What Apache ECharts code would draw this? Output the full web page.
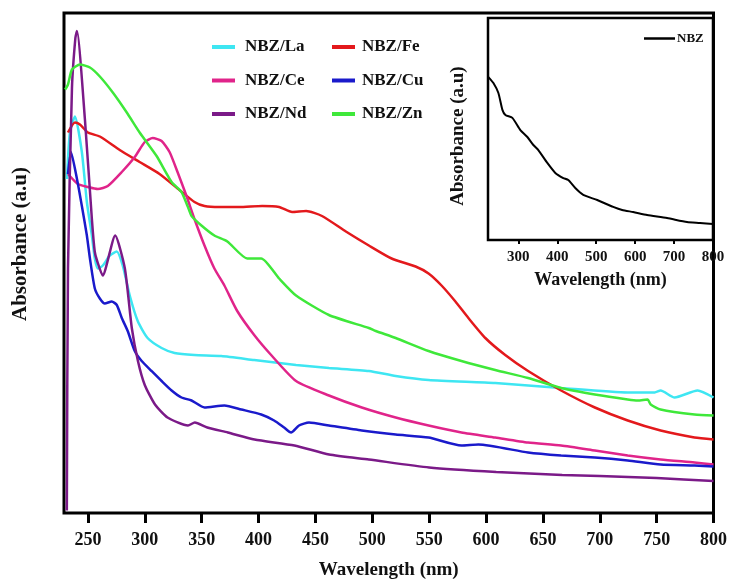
<!DOCTYPE html>
<html>
<head>
<meta charset="utf-8">
<script src="https://cdn.jsdelivr.net/npm/echarts@6/dist/echarts.min.js"></script>
<style>
  html, body { margin: 0; padding: 0; background: #fff; }
  #chart { width: 730px; height: 585px; }
</style>
</head>
<body>
<div id="chart"></div>
<script>
// wavelength (nm), absorbance (a.u., arbitrary scale 0-100)
const laData = [[231.6, 66.8], [234.2, 76.1], [238.6, 79.3], [244.7, 72.2], [249.1, 62.2], [253.5, 55.5], [256.1, 50.9], [258.8, 48.9], [263.1, 49.5], [269.3, 51.5], [275.4, 52.3], [280.6, 49.5], [286.8, 43.5], [293.8, 38.4], [302.5, 35.0], [314.8, 33.0], [326.2, 32.0], [343.7, 31.6], [367.3, 31.4], [396.2, 30.6], [433, 29.6], [461.9, 29.0], [497, 28.4], [520.6, 27.4], [549.5, 26.6], [608.1, 26.0], [666, 25.0], [724.6, 24.1], [748.3, 24.1], [753.5, 24.5], [765.8, 23.1], [786, 24.5], [800, 23.1]]
const feData = [[232.5, 76.1], [238.6, 78.1], [243, 77.7], [250, 76.1], [260.5, 75.3], [278, 72.6], [295.5, 70.2], [313, 67.8], [330.5, 64.6], [343.7, 62.2], [352.5, 61.4], [365.6, 61.2], [383, 61.2], [403.2, 61.4], [418.1, 61.2], [429.5, 60.2], [441.8, 60.4], [455.8, 59.4], [476.8, 56.3], [497, 53.5], [517, 50.9], [538.1, 49.3], [549.5, 47.9], [560.9, 45.5], [573.1, 42.3], [584.5, 39.0], [599.4, 35.0], [616.9, 31.6], [637, 28.4], [666, 24.5], [695.7, 21.1], [724.6, 18.5], [753.5, 16.5], [783.3, 15.1], [800, 14.7]]
const ceData = [[232.5, 67.8], [241.2, 65.8], [250, 65.2], [258.8, 64.8], [267.5, 65.4], [279.8, 68.2], [291.2, 71.2], [300, 74.2], [307, 75.0], [314.8, 74.4], [321.8, 72.2], [328.8, 68.2], [336.7, 63.4], [343.7, 58.8], [352.5, 53.5], [361.2, 48.9], [370, 45.5], [381.3, 40.4], [396.2, 35.6], [411.1, 31.6], [433, 26.4], [461.9, 23.5], [490.8, 21.1], [520.6, 19.1], [549.5, 17.5], [578.4, 16.1], [608.1, 15.1], [637, 14.1], [666, 13.5], [695.7, 12.5], [724.6, 11.5], [753.5, 10.7], [783.3, 10.1], [800, 9.7]]
const cuData = [[232.5, 67.8], [235.1, 72.2], [240.4, 66.8], [244.7, 61.4], [249.1, 55.5], [251.8, 50.9], [256.1, 44.9], [260.5, 42.9], [264.9, 41.9], [271, 42.3], [275.4, 41.6], [279.8, 39.0], [285, 36.4], [291.2, 32.4], [297.3, 30.4], [306, 28.4], [314.8, 26.4], [323.6, 24.5], [332.3, 23.1], [341.1, 22.5], [352.5, 21.1], [370, 21.5], [384.9, 20.7], [402.4, 19.7], [413.7, 18.5], [422.5, 17.1], [428.6, 16.1], [435.6, 17.5], [444.4, 18.1], [461.9, 17.5], [490.8, 16.5], [520.6, 15.7], [549.5, 15.1], [578.4, 13.5], [593.3, 13.7], [637, 12.1], [666, 11.5], [695.7, 11.1], [724.6, 10.5], [753.5, 9.7], [783.3, 9.5], [800, 9.3]]
const ndData = [[231.5, 0.5], [232.5, 49.0], [236, 85.0], [239, 95.0], [240.4, 96.4], [247.4, 78.7], [253.5, 58.8], [256, 52.3], [258, 50.5], [263, 47.5], [274, 55.5], [282.5, 48.9], [288.6, 37.0], [294, 30.4], [300, 25.6], [309, 21.7], [320, 19.1], [338, 17.5], [344, 18.1], [355, 17.1], [373, 16.1], [396.5, 14.7], [431.6, 13.5], [462, 11.7], [497, 10.7], [550, 9.1], [609, 8.2], [667, 7.6], [700, 7.4], [750, 7.0], [800, 6.4]]
const znData = [[230, 84.7], [232.5, 85.7], [236, 88.7], [243, 89.7], [251.8, 89.1], [260.5, 87.3], [271.9, 84.1], [284.2, 80.1], [295.5, 76.1], [310.4, 71.4], [323.6, 66.2], [332.3, 64.2], [337.6, 61.4], [339.3, 60.4], [341.1, 59.4], [349.8, 57.5], [361.2, 55.5], [372.6, 54.3], [390.1, 50.9], [402.4, 50.9], [418.1, 46.9], [433, 43.5], [461.9, 39.6], [497, 37.0], [503.1, 36.4], [520.6, 35.0], [549.5, 32.4], [578.4, 30.4], [608.1, 28.6], [637, 27.0], [666, 25.0], [695.7, 23.7], [724.6, 22.7], [733.4, 22.5], [742.1, 22.7], [744.8, 21.7], [753.5, 20.7], [783.3, 19.7], [800, 19.5]]
// inset: bare NBZ
const nbzData = [[223.1, 73.4], [235.9, 70.7], [248.7, 66.2], [259, 58.6], [266.7, 56.3], [284.6, 55.0], [305.1, 49.5], [323.1, 46.4], [338.5, 42.8], [351.3, 40.5], [374.4, 34.7], [394.9, 30.2], [415.4, 27.9], [428.2, 27.0], [446.2, 23.4], [466.7, 20.3], [502.6, 18.0], [543.6, 14.9], [566.7, 13.5], [594.9, 12.6], [630.8, 11.3], [682.1, 9.9], [733.3, 8.1], [766.7, 7.7], [800, 7.2]]

const mainTicks = [250, 300, 350, 400, 450, 500, 550, 600, 650, 700, 750, 800]
const insetTicks = [300, 400, 500, 600, 700, 800]

const serif = '"Liberation Serif", "Times New Roman", serif'

let myChart = echarts.init(document.getElementById('chart'))

const lineSeries = (name, data, color) => ({
  name: name,
  type: 'line',
  xAxisIndex: 0,
  yAxisIndex: 0,
  data: data,
  showSymbol: false,
  smooth: 0.2,
  lineStyle: { width: 2.5, color: color },
  itemStyle: { color: color },
  animation: false
})

const legendBase = {
  orient: 'vertical',
  icon: 'rect',
  itemWidth: 23,
  itemHeight: 4,
  itemGap: 15.5,
  textStyle: {
    fontFamily: serif,
    fontWeight: 'bold',
    fontSize: 17,
    lineHeight: 18,
    color: '#111',
    padding: [0, 0, 0, 5]
  }
}

let option = {
  backgroundColor: '#fff',
  animation: false,
  legend: [
    { ...legendBase, left: 207, top: 33, data: ['NBZ/La', 'NBZ/Ce', 'NBZ/Nd'] },
    { ...legendBase, left: 327, top: 33, data: ['NBZ/Fe', 'NBZ/Cu', 'NBZ/Zn'],
      textStyle: { ...legendBase.textStyle, padding: [0, 0, 0, 2] } },
    {
      left: 639, top: 27, data: ['NBZ'], icon: 'rect',
      itemWidth: 31, itemHeight: 2.5,
      textStyle: { fontFamily: serif, fontWeight: 'bold', fontSize: 13, color: '#111', padding: [0, 0, 0, -3] }
    }
  ],
  grid: [
    { left: 64, right: 13, top: 13, bottom: 69, show: true, borderColor: '#000', borderWidth: 3, backgroundColor: '#fff' },
    { left: 488, right: 17, top: 18, bottom: 345, show: true, borderColor: '#000', borderWidth: 2.5, backgroundColor: '#fff', z: 3 }
  ],
  xAxis: [
    {
      gridIndex: 0,
      type: 'value',
      min: 229,
      max: 800,
      name: 'Wavelength (nm)',
      nameLocation: 'middle',
      nameGap: 48,
      nameTextStyle: { fontFamily: serif, fontWeight: 'bold', fontSize: 19, color: '#111' },
      axisLine: { show: false },
      axisTick: { show: true, inside: false, length: 10, customValues: mainTicks, lineStyle: { color: '#000', width: 3 } },
      axisLabel: { customValues: mainTicks, margin: 18, fontFamily: serif, fontWeight: 'bold', fontSize: 18, color: '#111' },
      splitLine: { show: false }
    },
    {
      gridIndex: 1,
      type: 'value',
      min: 222,
      max: 800,
      name: 'Wavelength (nm)',
      nameLocation: 'middle',
      nameGap: 31,
      nameTextStyle: { fontFamily: serif, fontWeight: 'bold', fontSize: 18, color: '#111' },
      axisLine: { show: false },
      axisTick: { show: true, inside: false, length: 4, customValues: insetTicks, lineStyle: { color: '#000', width: 2 } },
      axisLabel: { customValues: insetTicks, margin: 10, fontFamily: serif, fontWeight: 'bold', fontSize: 15, color: '#111' },
      splitLine: { show: false }
    }
  ],
  yAxis: [
    {
      gridIndex: 0,
      type: 'value',
      min: 0,
      max: 100,
      name: 'Absorbance (a.u)',
      nameLocation: 'middle',
      nameGap: 33,
      nameTextStyle: { fontFamily: serif, fontWeight: 'bold', fontSize: 21, color: '#111', padding: [0, 0, 0, 38] },
      axisLine: { show: false },
      axisTick: { show: false },
      axisLabel: { show: false },
      splitLine: { show: false }
    },
    {
      gridIndex: 1,
      type: 'value',
      min: 0,
      max: 100,
      name: 'Absorbance (a.u)',
      nameLocation: 'middle',
      nameGap: 20,
      nameTextStyle: { fontFamily: serif, fontWeight: 'bold', fontSize: 19, color: '#111', padding: [0, 14, 0, 0] },
      axisLine: { show: false },
      axisTick: { show: false },
      axisLabel: { show: false },
      splitLine: { show: false }
    }
  ],
  series: [
    lineSeries('NBZ/La', laData, '#3ee6f2'),
    lineSeries('NBZ/Fe', feData, '#e3191c'),
    lineSeries('NBZ/Ce', ceData, '#e0248a'),
    lineSeries('NBZ/Cu', cuData, '#1a1acb'),
    lineSeries('NBZ/Nd', ndData, '#7b1a88'),
    lineSeries('NBZ/Zn', znData, '#3fe83a'),
    {
      name: 'NBZ',
      type: 'line',
      xAxisIndex: 1,
      yAxisIndex: 1,
      data: nbzData,
      showSymbol: false,
      smooth: 0.2,
      z: 4,
      lineStyle: { width: 2, color: '#000' },
      itemStyle: { color: '#000' }
    }
  ]
}

myChart.setOption(option)
window.addEventListener('resize', () => myChart.resize())
</script>
</body>
</html>
